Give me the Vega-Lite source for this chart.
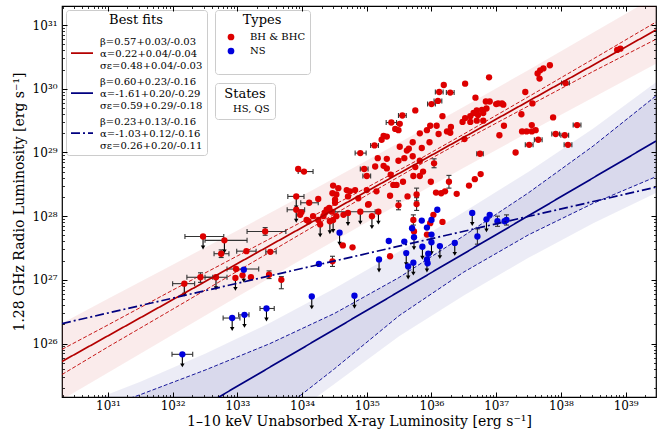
{
"$schema": "https://vega.github.io/schema/vega-lite/v6.json",
"width": 594, "height": 391,
"autosize": {"type": "none"},
"padding": {"left": 62, "top": 6, "right": 15, "bottom": 38},
"config": {"font": "DejaVu Serif", "view": {"stroke": "black", "strokeWidth": 1.2}},
"resolve": {"axis": {"x": "independent", "y": "independent"}},
"datasets": {
"redband": [
{"lx":30.29,"up":26.318,"lo":25.118},{"lx":31,"up":26.701,"lo":25.541},{"lx":32,"up":27.238,"lo":26.138},{"lx":33,"up":27.775,"lo":26.735},{"lx":34,"up":28.322,"lo":27.322},{"lx":35,"up":28.874,"lo":27.904},{"lx":35.8,"up":29.322,"lo":28.362},{"lx":36.5,"up":29.719,"lo":28.759},{"lx":37.5,"up":30.296,"lo":29.316},{"lx":38.5,"up":30.883,"lo":29.863},{"lx":39.47,"up":31.453,"lo":30.393}],
"redconf": [
{"lx":30.29,"up":25.908,"lo":25.513},{"lx":31,"up":26.291,"lo":25.946},{"lx":32,"up":26.838,"lo":26.538},{"lx":33,"up":27.375,"lo":27.135},{"lx":34,"up":27.912,"lo":27.732},{"lx":35,"up":28.449,"lo":28.329},{"lx":35.8,"up":28.887,"lo":28.797},{"lx":36.5,"up":29.289,"lo":29.189},{"lx":37.5,"up":29.876,"lo":29.731},{"lx":38.5,"up":30.468,"lo":30.273},{"lx":39.47,"up":31.048,"lo":30.778}],
"blueband": [
{"lx":30.29,"up":24.921,"lo":22.059},{"lx":31.5,"up":25.399,"lo":23.055},{"lx":32.5,"up":25.839,"lo":23.871},{"lx":33.5,"up":26.323,"lo":24.617},{"lx":34.5,"up":26.863,"lo":25.366},{"lx":35.5,"up":27.446,"lo":26.115},{"lx":36.5,"up":28.065,"lo":26.755},{"lx":37.5,"up":28.698,"lo":27.345},{"lx":38.5,"up":29.375,"lo":27.889},{"lx":39.47,"up":30.102,"lo":28.365}],
"blueconf": [
{"lx":30.29,"up":24.767,"lo":22.167},{"lx":31.5,"up":25.197,"lo":23.187},{"lx":32.5,"up":25.582,"lo":24.032},{"lx":33.5,"up":25.997,"lo":24.807},{"lx":34.5,"up":26.472,"lo":25.602},{"lx":35.5,"up":27.037,"lo":26.437},{"lx":36.5,"up":27.692,"lo":27.122},{"lx":37.5,"up":28.367,"lo":27.707},{"lx":38.5,"up":29.102,"lo":28.202},{"lx":39.47,"up":29.889,"lo":28.619}],
"fits": [
{"fit":"r","lx":30.29,"ly":25.718},{"fit":"r","lx":39.47,"ly":30.923},
{"fit":"b","lx":30.29,"ly":23.717},{"fit":"b","lx":39.47,"ly":29.179},
{"fit":"d","lx":30.29,"ly":26.313},{"fit":"d","lx":39.47,"ly":28.456}],
"pts": [
{"lx":32.47,"ly":27.68,"type":"BH & BHC","state":"HS, QS","ul":1,"xlo":32.19,"xhi":32.79},
{"lx":32.80,"ly":27.62,"type":"BH & BHC","state":"HS, QS","ul":1,"xlo":32.50,"xhi":33.15},
{"lx":32.75,"ly":27.41,"type":"BH & BHC","state":"HS, QS","ul":0,"xlo":32.64,"xhi":32.87,"ylo":27.35,"yhi":27.47},
{"lx":33.14,"ly":27.45,"type":"BH & BHC","state":"HS, QS","ul":0,"xlo":32.99,"xhi":33.29},
{"lx":33.43,"ly":27.76,"type":"BH & BHC","state":"HS, QS","ul":0,"xlo":33.15,"xhi":33.75,"ylo":27.70,"yhi":27.82},
{"lx":33.51,"ly":27.44,"type":"BH & BHC","state":"HS, QS","ul":0,"xlo":33.44,"xhi":33.60},
{"lx":32.18,"ly":26.94,"type":"BH & BHC","state":"HS, QS","ul":1,"xlo":32.00,"xhi":32.34},
{"lx":32.43,"ly":27.04,"type":"BH & BHC","state":"HS, QS","ul":0,"xlo":32.22,"xhi":32.62,"ylo":26.96,"yhi":27.11},
{"lx":32.67,"ly":27.04,"type":"BH & BHC","state":"HS, QS","ul":1,"xlo":32.50,"xhi":32.84},
{"lx":32.98,"ly":27.17,"type":"BH & BHC","state":"HS, QS","ul":0,"xlo":32.84,"xhi":33.33},
{"lx":32.97,"ly":27.03,"type":"BH & BHC","state":"HS, QS","ul":1},
{"lx":33.08,"ly":27.07,"type":"BH & BHC","state":"HS, QS","ul":0},
{"lx":33.21,"ly":27.04,"type":"BH & BHC","state":"HS, QS","ul":0},
{"lx":33.49,"ly":27.08,"type":"BH & BHC","state":"HS, QS","ul":0,"ylo":27.02,"yhi":27.14},
{"lx":33.68,"ly":27.00,"type":"BH & BHC","state":"HS, QS","ul":0,"ylo":26.86,"yhi":27.05},
{"lx":33.91,"ly":28.31,"type":"BH & BHC","state":"HS, QS","ul":1,"xlo":33.78,"xhi":34.03},
{"lx":33.94,"ly":28.74,"type":"BH & BHC","state":"HS, QS","ul":0},
{"lx":34.03,"ly":28.70,"type":"BH & BHC","state":"HS, QS","ul":0,"xlo":33.94,"xhi":34.17},
{"lx":33.91,"ly":28.10,"type":"BH & BHC","state":"HS, QS","ul":1,"xlo":33.77,"xhi":34.04},
{"lx":33.97,"ly":28.02,"type":"BH & BHC","state":"HS, QS","ul":0},
{"lx":34.11,"ly":28.21,"type":"BH & BHC","state":"HS, QS","ul":0,"xlo":33.98,"xhi":34.25},
{"lx":34.25,"ly":28.27,"type":"BH & BHC","state":"HS, QS","ul":0},
{"lx":34.10,"ly":27.92,"type":"BH & BHC","state":"HS, QS","ul":0},
{"lx":34.28,"ly":27.87,"type":"BH & BHC","state":"HS, QS","ul":1},
{"lx":34.47,"ly":27.29,"type":"BH & BHC","state":"HS, QS","ul":0,"ylo":27.21,"yhi":27.37},
{"lx":34.63,"ly":27.54,"type":"BH & BHC","state":"HS, QS","ul":0},
{"lx":34.78,"ly":27.51,"type":"BH & BHC","state":"HS, QS","ul":0},
{"lx":34.90,"ly":28.99,"type":"BH & BHC","state":"HS, QS","ul":0,"xlo":34.82,"xhi":34.99},
{"lx":34.47,"ly":28.36,"type":"BH & BHC","state":"HS, QS","ul":0},
{"lx":34.56,"ly":28.44,"type":"BH & BHC","state":"HS, QS","ul":0},
{"lx":34.69,"ly":28.41,"type":"BH & BHC","state":"HS, QS","ul":0},
{"lx":34.51,"ly":28.21,"type":"BH & BHC","state":"HS, QS","ul":0},
{"lx":34.38,"ly":28.10,"type":"BH & BHC","state":"HS, QS","ul":0},
{"lx":34.46,"ly":28.07,"type":"BH & BHC","state":"HS, QS","ul":0},
{"lx":34.33,"ly":28.00,"type":"BH & BHC","state":"HS, QS","ul":0},
{"lx":34.17,"ly":28.00,"type":"BH & BHC","state":"HS, QS","ul":0},
{"lx":34.07,"ly":27.94,"type":"BH & BHC","state":"HS, QS","ul":0},
{"lx":34.53,"ly":28.00,"type":"BH & BHC","state":"HS, QS","ul":0},
{"lx":34.25,"ly":27.94,"type":"BH & BHC","state":"HS, QS","ul":0},
{"lx":34.43,"ly":27.92,"type":"BH & BHC","state":"HS, QS","ul":1},
{"lx":34.64,"ly":28.02,"type":"BH & BHC","state":"HS, QS","ul":0},
{"lx":33.99,"ly":28.06,"type":"BH & BHC","state":"HS, QS","ul":0},
{"lx":34.35,"ly":28.05,"type":"BH & BHC","state":"HS, QS","ul":0},
{"lx":34.42,"ly":28.13,"type":"BH & BHC","state":"HS, QS","ul":0},
{"lx":34.48,"ly":28.48,"type":"BH & BHC","state":"HS, QS","ul":0},
{"lx":34.74,"ly":28.39,"type":"BH & BHC","state":"HS, QS","ul":0},
{"lx":34.82,"ly":28.41,"type":"BH & BHC","state":"HS, QS","ul":0},
{"lx":34.53,"ly":28.34,"type":"BH & BHC","state":"HS, QS","ul":0},
{"lx":34.71,"ly":28.31,"type":"BH & BHC","state":"HS, QS","ul":0},
{"lx":34.87,"ly":28.28,"type":"BH & BHC","state":"HS, QS","ul":0},
{"lx":35.00,"ly":28.41,"type":"BH & BHC","state":"HS, QS","ul":0},
{"lx":35.15,"ly":28.39,"type":"BH & BHC","state":"HS, QS","ul":0},
{"lx":34.51,"ly":28.26,"type":"BH & BHC","state":"HS, QS","ul":0},
{"lx":34.71,"ly":28.05,"type":"BH & BHC","state":"HS, QS","ul":1},
{"lx":34.90,"ly":28.07,"type":"BH & BHC","state":"HS, QS","ul":1,"xlo":34.51,"xhi":35.13},
{"lx":35.08,"ly":28.00,"type":"BH & BHC","state":"HS, QS","ul":1},
{"lx":35.18,"ly":28.07,"type":"BH & BHC","state":"HS, QS","ul":1},
{"lx":34.48,"ly":27.94,"type":"BH & BHC","state":"HS, QS","ul":1},
{"lx":35.02,"ly":28.18,"type":"BH & BHC","state":"HS, QS","ul":0},
{"lx":37.64,"ly":30.24,"type":"BH & BHC","state":"HS, QS","ul":0},
{"lx":37.68,"ly":30.29,"type":"BH & BHC","state":"HS, QS","ul":0},
{"lx":37.73,"ly":30.32,"type":"BH & BHC","state":"HS, QS","ul":0},
{"lx":37.67,"ly":30.16,"type":"BH & BHC","state":"HS, QS","ul":0},
{"lx":37.83,"ly":30.37,"type":"BH & BHC","state":"HS, QS","ul":0},
{"lx":36.89,"ly":30.18,"type":"BH & BHC","state":"HS, QS","ul":0},
{"lx":36.52,"ly":30.08,"type":"BH & BHC","state":"HS, QS","ul":0},
{"lx":36.19,"ly":30.06,"type":"BH & BHC","state":"HS, QS","ul":0},
{"lx":36.12,"ly":29.95,"type":"BH & BHC","state":"HS, QS","ul":0,"xlo":36.06,"xhi":36.18},
{"lx":36.29,"ly":29.94,"type":"BH & BHC","state":"HS, QS","ul":0,"xlo":36.23,"xhi":36.35},
{"lx":37.45,"ly":29.95,"type":"BH & BHC","state":"HS, QS","ul":0},
{"lx":38.07,"ly":30.09,"type":"BH & BHC","state":"HS, QS","ul":0,"xlo":38.01,"xhi":38.13},
{"lx":38.87,"ly":30.61,"type":"BH & BHC","state":"HS, QS","ul":0},
{"lx":38.92,"ly":30.63,"type":"BH & BHC","state":"HS, QS","ul":0},
{"lx":36.68,"ly":29.86,"type":"BH & BHC","state":"HS, QS","ul":0},
{"lx":36.10,"ly":29.81,"type":"BH & BHC","state":"HS, QS","ul":0,"xlo":36.04,"xhi":36.16},
{"lx":36.00,"ly":29.76,"type":"BH & BHC","state":"HS, QS","ul":0,"xlo":35.94,"xhi":36.06},
{"lx":36.84,"ly":29.80,"type":"BH & BHC","state":"HS, QS","ul":0},
{"lx":36.90,"ly":29.80,"type":"BH & BHC","state":"HS, QS","ul":0},
{"lx":37.00,"ly":29.76,"type":"BH & BHC","state":"HS, QS","ul":0},
{"lx":37.03,"ly":29.77,"type":"BH & BHC","state":"HS, QS","ul":0},
{"lx":37.09,"ly":29.77,"type":"BH & BHC","state":"HS, QS","ul":0},
{"lx":37.11,"ly":29.75,"type":"BH & BHC","state":"HS, QS","ul":0},
{"lx":37.56,"ly":29.77,"type":"BH & BHC","state":"HS, QS","ul":0},
{"lx":37.39,"ly":29.60,"type":"BH & BHC","state":"HS, QS","ul":0},
{"lx":37.88,"ly":29.55,"type":"BH & BHC","state":"HS, QS","ul":0},
{"lx":35.75,"ly":29.66,"type":"BH & BHC","state":"HS, QS","ul":0},
{"lx":35.55,"ly":29.58,"type":"BH & BHC","state":"HS, QS","ul":0,"xlo":35.49,"xhi":35.61},
{"lx":36.17,"ly":29.57,"type":"BH & BHC","state":"HS, QS","ul":0},
{"lx":36.70,"ly":29.66,"type":"BH & BHC","state":"HS, QS","ul":0},
{"lx":36.78,"ly":29.67,"type":"BH & BHC","state":"HS, QS","ul":0},
{"lx":36.65,"ly":29.62,"type":"BH & BHC","state":"HS, QS","ul":0},
{"lx":36.60,"ly":29.57,"type":"BH & BHC","state":"HS, QS","ul":0},
{"lx":36.85,"ly":29.69,"type":"BH & BHC","state":"HS, QS","ul":0},
{"lx":36.72,"ly":29.59,"type":"BH & BHC","state":"HS, QS","ul":0},
{"lx":36.80,"ly":29.62,"type":"BH & BHC","state":"HS, QS","ul":0},
{"lx":36.48,"ly":29.48,"type":"BH & BHC","state":"HS, QS","ul":0},
{"lx":36.52,"ly":29.54,"type":"BH & BHC","state":"HS, QS","ul":0},
{"lx":36.60,"ly":29.48,"type":"BH & BHC","state":"HS, QS","ul":0},
{"lx":36.70,"ly":29.50,"type":"BH & BHC","state":"HS, QS","ul":0},
{"lx":36.80,"ly":29.50,"type":"BH & BHC","state":"HS, QS","ul":0},
{"lx":35.38,"ly":29.47,"type":"BH & BHC","state":"HS, QS","ul":0,"xlo":35.30,"xhi":35.46},
{"lx":35.51,"ly":29.45,"type":"BH & BHC","state":"HS, QS","ul":0},
{"lx":35.44,"ly":29.37,"type":"BH & BHC","state":"HS, QS","ul":0},
{"lx":35.49,"ly":29.35,"type":"BH & BHC","state":"HS, QS","ul":0},
{"lx":35.98,"ly":29.42,"type":"BH & BHC","state":"HS, QS","ul":0},
{"lx":36.08,"ly":29.42,"type":"BH & BHC","state":"HS, QS","ul":0},
{"lx":35.93,"ly":29.35,"type":"BH & BHC","state":"HS, QS","ul":0},
{"lx":35.82,"ly":29.30,"type":"BH & BHC","state":"HS, QS","ul":0},
{"lx":36.11,"ly":29.29,"type":"BH & BHC","state":"HS, QS","ul":0},
{"lx":36.24,"ly":29.33,"type":"BH & BHC","state":"HS, QS","ul":0},
{"lx":36.30,"ly":29.40,"type":"BH & BHC","state":"HS, QS","ul":0},
{"lx":36.29,"ly":29.31,"type":"BH & BHC","state":"HS, QS","ul":0},
{"lx":37.12,"ly":29.42,"type":"BH & BHC","state":"HS, QS","ul":0},
{"lx":37.05,"ly":29.27,"type":"BH & BHC","state":"HS, QS","ul":0},
{"lx":37.40,"ly":29.33,"type":"BH & BHC","state":"HS, QS","ul":0},
{"lx":37.47,"ly":29.33,"type":"BH & BHC","state":"HS, QS","ul":0},
{"lx":37.55,"ly":29.33,"type":"BH & BHC","state":"HS, QS","ul":0},
{"lx":37.61,"ly":29.35,"type":"BH & BHC","state":"HS, QS","ul":0},
{"lx":37.55,"ly":29.43,"type":"BH & BHC","state":"HS, QS","ul":0},
{"lx":37.65,"ly":29.20,"type":"BH & BHC","state":"HS, QS","ul":0,"xlo":37.59,"xhi":37.71},
{"lx":37.51,"ly":29.12,"type":"BH & BHC","state":"HS, QS","ul":0,"xlo":37.45,"xhi":37.57},
{"lx":37.92,"ly":29.29,"type":"BH & BHC","state":"HS, QS","ul":0,"xlo":37.86,"xhi":37.98},
{"lx":38.06,"ly":29.27,"type":"BH & BHC","state":"HS, QS","ul":0,"xlo":38.00,"xhi":38.12},
{"lx":38.11,"ly":29.12,"type":"BH & BHC","state":"HS, QS","ul":0,"xlo":38.05,"xhi":38.17},
{"lx":38.25,"ly":29.43,"type":"BH & BHC","state":"HS, QS","ul":0,"xlo":38.19,"xhi":38.31},
{"lx":37.30,"ly":29.00,"type":"BH & BHC","state":"HS, QS","ul":0},
{"lx":36.75,"ly":28.98,"type":"BH & BHC","state":"HS, QS","ul":0,"xlo":36.70,"xhi":36.80},
{"lx":36.51,"ly":29.21,"type":"BH & BHC","state":"HS, QS","ul":0},
{"lx":35.26,"ly":29.26,"type":"BH & BHC","state":"HS, QS","ul":0},
{"lx":35.31,"ly":29.25,"type":"BH & BHC","state":"HS, QS","ul":0},
{"lx":35.23,"ly":29.20,"type":"BH & BHC","state":"HS, QS","ul":0},
{"lx":35.12,"ly":29.11,"type":"BH & BHC","state":"HS, QS","ul":0,"xlo":35.06,"xhi":35.18},
{"lx":35.51,"ly":29.09,"type":"BH & BHC","state":"HS, QS","ul":0},
{"lx":35.65,"ly":29.06,"type":"BH & BHC","state":"HS, QS","ul":0},
{"lx":35.62,"ly":29.03,"type":"BH & BHC","state":"HS, QS","ul":0},
{"lx":35.71,"ly":29.16,"type":"BH & BHC","state":"HS, QS","ul":0},
{"lx":35.85,"ly":29.07,"type":"BH & BHC","state":"HS, QS","ul":0},
{"lx":35.97,"ly":29.16,"type":"BH & BHC","state":"HS, QS","ul":0},
{"lx":35.17,"ly":28.91,"type":"BH & BHC","state":"HS, QS","ul":0},
{"lx":35.31,"ly":28.90,"type":"BH & BHC","state":"HS, QS","ul":0},
{"lx":35.49,"ly":28.87,"type":"BH & BHC","state":"HS, QS","ul":0},
{"lx":35.58,"ly":28.91,"type":"BH & BHC","state":"HS, QS","ul":0},
{"lx":35.71,"ly":28.94,"type":"BH & BHC","state":"HS, QS","ul":0},
{"lx":35.13,"ly":28.78,"type":"BH & BHC","state":"HS, QS","ul":0},
{"lx":35.26,"ly":28.79,"type":"BH & BHC","state":"HS, QS","ul":0},
{"lx":35.31,"ly":28.75,"type":"BH & BHC","state":"HS, QS","ul":0},
{"lx":35.82,"ly":28.87,"type":"BH & BHC","state":"HS, QS","ul":0},
{"lx":35.75,"ly":28.77,"type":"BH & BHC","state":"HS, QS","ul":0},
{"lx":36.04,"ly":28.83,"type":"BH & BHC","state":"HS, QS","ul":0,"ylo":28.76,"yhi":28.90},
{"lx":34.96,"ly":28.74,"type":"BH & BHC","state":"HS, QS","ul":0,"xlo":34.90,"xhi":35.02},
{"lx":35.00,"ly":28.63,"type":"BH & BHC","state":"HS, QS","ul":0,"xlo":34.94,"xhi":35.06},
{"lx":35.37,"ly":28.65,"type":"BH & BHC","state":"HS, QS","ul":0},
{"lx":35.41,"ly":28.49,"type":"BH & BHC","state":"HS, QS","ul":0},
{"lx":35.46,"ly":28.49,"type":"BH & BHC","state":"HS, QS","ul":0},
{"lx":35.56,"ly":28.54,"type":"BH & BHC","state":"HS, QS","ul":0},
{"lx":35.72,"ly":28.63,"type":"BH & BHC","state":"HS, QS","ul":0},
{"lx":35.82,"ly":28.63,"type":"BH & BHC","state":"HS, QS","ul":0},
{"lx":35.87,"ly":28.70,"type":"BH & BHC","state":"HS, QS","ul":0},
{"lx":35.99,"ly":28.54,"type":"BH & BHC","state":"HS, QS","ul":0},
{"lx":36.27,"ly":28.54,"type":"BH & BHC","state":"HS, QS","ul":0,"ylo":28.44,"yhi":28.64},
{"lx":36.15,"ly":28.36,"type":"BH & BHC","state":"HS, QS","ul":0},
{"lx":36.21,"ly":28.39,"type":"BH & BHC","state":"HS, QS","ul":0},
{"lx":36.07,"ly":28.37,"type":"BH & BHC","state":"HS, QS","ul":0},
{"lx":36.39,"ly":28.35,"type":"BH & BHC","state":"HS, QS","ul":0},
{"lx":36.58,"ly":28.48,"type":"BH & BHC","state":"HS, QS","ul":0},
{"lx":36.67,"ly":28.58,"type":"BH & BHC","state":"HS, QS","ul":0},
{"lx":36.76,"ly":28.66,"type":"BH & BHC","state":"HS, QS","ul":0},
{"lx":35.36,"ly":28.32,"type":"BH & BHC","state":"HS, QS","ul":0},
{"lx":35.63,"ly":28.31,"type":"BH & BHC","state":"HS, QS","ul":0},
{"lx":35.77,"ly":28.34,"type":"BH & BHC","state":"HS, QS","ul":0,"ylo":28.24,"yhi":28.44},
{"lx":35.77,"ly":28.19,"type":"BH & BHC","state":"HS, QS","ul":0,"ylo":28.09,"yhi":28.29},
{"lx":35.49,"ly":28.17,"type":"BH & BHC","state":"HS, QS","ul":0,"ylo":28.10,"yhi":28.24},
{"lx":35.03,"ly":28.19,"type":"BH & BHC","state":"HS, QS","ul":0},
{"lx":35.72,"ly":27.94,"type":"BH & BHC","state":"HS, QS","ul":0,"ylo":27.86,"yhi":28.02},
{"lx":35.98,"ly":27.89,"type":"BH & BHC","state":"HS, QS","ul":0},
{"lx":36.03,"ly":28.02,"type":"BH & BHC","state":"HS, QS","ul":0},
{"lx":36.17,"ly":27.91,"type":"BH & BHC","state":"HS, QS","ul":0},
{"lx":35.73,"ly":27.76,"type":"BH & BHC","state":"HS, QS","ul":0},
{"lx":35.93,"ly":27.71,"type":"BH & BHC","state":"HS, QS","ul":0},
{"lx":35.36,"ly":27.37,"type":"BH & BHC","state":"HS, QS","ul":0},
{"lx":33.10,"ly":27.16,"type":"NS","state":"HS, QS","ul":1},
{"lx":34.26,"ly":27.25,"type":"NS","state":"HS, QS","ul":0},
{"lx":34.15,"ly":26.74,"type":"NS","state":"HS, QS","ul":1},
{"lx":33.45,"ly":26.55,"type":"NS","state":"HS, QS","ul":1,"xlo":33.35,"xhi":33.57},
{"lx":33.11,"ly":26.45,"type":"NS","state":"HS, QS","ul":1,"xlo":33.02,"xhi":33.18},
{"lx":32.92,"ly":26.40,"type":"NS","state":"HS, QS","ul":1,"xlo":32.78,"xhi":33.04},
{"lx":32.15,"ly":25.83,"type":"NS","state":"HS, QS","ul":1,"xlo":31.99,"xhi":32.31},
{"lx":34.81,"ly":26.75,"type":"NS","state":"HS, QS","ul":1},
{"lx":34.58,"ly":27.74,"type":"NS","state":"HS, QS","ul":1},
{"lx":36.09,"ly":28.10,"type":"NS","state":"HS, QS","ul":0},
{"lx":35.85,"ly":27.93,"type":"NS","state":"HS, QS","ul":0},
{"lx":35.70,"ly":27.81,"type":"NS","state":"HS, QS","ul":0},
{"lx":35.93,"ly":27.82,"type":"NS","state":"HS, QS","ul":0},
{"lx":36.00,"ly":27.94,"type":"NS","state":"HS, QS","ul":0},
{"lx":36.63,"ly":28.05,"type":"NS","state":"HS, QS","ul":1},
{"lx":36.90,"ly":28.02,"type":"NS","state":"HS, QS","ul":0},
{"lx":36.85,"ly":27.95,"type":"NS","state":"HS, QS","ul":1},
{"lx":37.02,"ly":27.92,"type":"NS","state":"HS, QS","ul":0,"ylo":27.84,"yhi":28.00},
{"lx":37.13,"ly":27.92,"type":"NS","state":"HS, QS","ul":0},
{"lx":37.16,"ly":27.94,"type":"NS","state":"HS, QS","ul":0,"ylo":27.86,"yhi":28.02},
{"lx":36.71,"ly":27.68,"type":"NS","state":"HS, QS","ul":0,"ylo":27.56,"yhi":27.80},
{"lx":35.34,"ly":27.61,"type":"NS","state":"HS, QS","ul":0},
{"lx":35.58,"ly":27.60,"type":"NS","state":"HS, QS","ul":0},
{"lx":35.73,"ly":27.67,"type":"NS","state":"HS, QS","ul":1},
{"lx":36.00,"ly":27.71,"type":"NS","state":"HS, QS","ul":0},
{"lx":36.00,"ly":27.59,"type":"NS","state":"HS, QS","ul":1},
{"lx":36.36,"ly":27.58,"type":"NS","state":"HS, QS","ul":1},
{"lx":35.61,"ly":27.42,"type":"NS","state":"HS, QS","ul":1},
{"lx":35.86,"ly":27.52,"type":"NS","state":"HS, QS","ul":1},
{"lx":36.13,"ly":27.53,"type":"NS","state":"HS, QS","ul":1},
{"lx":35.19,"ly":27.32,"type":"NS","state":"HS, QS","ul":1},
{"lx":35.93,"ly":27.32,"type":"NS","state":"HS, QS","ul":1},
{"lx":35.94,"ly":27.26,"type":"NS","state":"HS, QS","ul":0},
{"lx":35.72,"ly":27.27,"type":"NS","state":"HS, QS","ul":1},
{"lx":35.64,"ly":27.21,"type":"NS","state":"HS, QS","ul":1},
{"lx":35.95,"ly":27.41,"type":"NS","state":"HS, QS","ul":0}
]
},
"layer": [
{"data": {"name": "redband"}, "mark": {"type": "area", "color": "#c00000", "opacity": 0.08, "clip": true},
 "encoding": {
  "x": {"field": "lx", "type": "quantitative", "scale": {"domain": [30.29, 39.47], "nice": false, "zero": false},
   "axis": {"orient": "bottom", "values": [31,32,33,34,35,36,37,38,39], "labelExpr": "'10' + (datum.value==31?'³¹':datum.value==32?'³²':datum.value==33?'³³':datum.value==34?'³⁴':datum.value==35?'³⁵':datum.value==36?'³⁶':datum.value==37?'³⁷':datum.value==38?'³⁸':'³⁹')", "tickSize": 5, "offset": -5, "labelPadding": 3, "domain": false, "grid": false, "tickColor": "black", "tickWidth": 1, "labelFont": "DejaVu Serif", "labelFontSize": 12, "labelColor": "black", "labelFlush": false, "title": "1–10 keV Unabsorbed X-ray Luminosity [erg s⁻¹]", "titleFont": "DejaVu Serif", "titleFontSize": 14, "titleFontWeight": "normal", "titleColor": "black", "titlePadding": 3, "zindex": 2}},
  "y": {"field": "up", "type": "quantitative", "scale": {"domain": [25.16, 31.3], "nice": false, "zero": false},
   "axis": {"orient": "left", "values": [26,27,28,29,30,31], "labelExpr": "'10' + (datum.value==26?'²⁶':datum.value==27?'²⁷':datum.value==28?'²⁸':datum.value==29?'²⁹':datum.value==30?'³⁰':'³¹')", "tickSize": 5, "offset": -5, "labelPadding": 5, "domain": false, "grid": false, "tickColor": "black", "tickWidth": 1, "labelFont": "DejaVu Serif", "labelFontSize": 12, "labelColor": "black", "labelFlush": false, "title": "1.28 GHz Radio Luminosity [erg s⁻¹]", "titleFont": "DejaVu Serif", "titleFontSize": 14, "titleFontWeight": "normal", "titleColor": "black", "titlePadding": 6, "zindex": 2}},
  "y2": {"field": "lo"}
 }},
{"data": {"name": "blueband"}, "mark": {"type": "area", "color": "#000080", "opacity": 0.075, "clip": true},
 "encoding": {
  "x": {"field": "lx", "type": "quantitative", "scale": {"domain": [30.29, 39.47], "nice": false, "zero": false},
   "axis": {"orient": "bottom", "values": [30.301,30.477,30.602,30.699,30.778,30.845,30.903,30.954,31.301,31.477,31.602,31.699,31.778,31.845,31.903,31.954,32.301,32.477,32.602,32.699,32.778,32.845,32.903,32.954,33.301,33.477,33.602,33.699,33.778,33.845,33.903,33.954,34.301,34.477,34.602,34.699,34.778,34.845,34.903,34.954,35.301,35.477,35.602,35.699,35.778,35.845,35.903,35.954,36.301,36.477,36.602,36.699,36.778,36.845,36.903,36.954,37.301,37.477,37.602,37.699,37.778,37.845,37.903,37.954,38.301,38.477,38.602,38.699,38.778,38.845,38.903,38.954,39.301], "labels": false, "tickSize": 2.5, "offset": -2.5, "domain": false, "grid": false, "tickColor": "black", "tickWidth": 0.8, "title": null, "zindex": 2}},
  "y": {"field": "up", "type": "quantitative", "scale": {"domain": [25.16, 31.3], "nice": false, "zero": false},
   "axis": {"orient": "left", "values": [25.301,25.477,25.602,25.699,25.778,25.845,25.903,25.954,26.301,26.477,26.602,26.699,26.778,26.845,26.903,26.954,27.301,27.477,27.602,27.699,27.778,27.845,27.903,27.954,28.301,28.477,28.602,28.699,28.778,28.845,28.903,28.954,29.301,29.477,29.602,29.699,29.778,29.845,29.903,29.954,30.301,30.477,30.602,30.699,30.778,30.845,30.903,30.954], "labels": false, "tickSize": 2.5, "offset": -2.5, "domain": false, "grid": false, "tickColor": "black", "tickWidth": 0.8, "title": null, "zindex": 2}},
  "y2": {"field": "lo"}
 }},
{"data": {"name": "blueconf"}, "mark": {"type": "area", "color": "#000080", "opacity": 0.08, "clip": true},
 "encoding": {
  "x": {"field": "lx", "type": "quantitative", "scale": {"domain": [30.29, 39.47], "nice": false, "zero": false},
   "axis": {"orient": "top", "values": [31,32,33,34,35,36,37,38,39], "labels": false, "tickSize": 5, "offset": -5, "domain": false, "grid": false, "tickColor": "black", "tickWidth": 1, "title": null, "zindex": 2}},
  "y": {"field": "up", "type": "quantitative", "scale": {"domain": [25.16, 31.3], "nice": false, "zero": false},
   "axis": {"orient": "right", "values": [26,27,28,29,30,31], "labels": false, "tickSize": 5, "offset": -5, "domain": false, "grid": false, "tickColor": "black", "tickWidth": 1, "title": null, "zindex": 2}},
  "y2": {"field": "lo"}
 }},
{"data": {"name": "redconf"}, "mark": {"type": "line", "color": "#c00000", "strokeWidth": 0.9, "strokeDash": [4, 2], "clip": true},
 "encoding": {
  "x": {"field": "lx", "type": "quantitative", "scale": {"domain": [30.29, 39.47], "nice": false, "zero": false},
   "axis": {"orient": "top", "values": [30.301,30.477,30.602,30.699,30.778,30.845,30.903,30.954,31.301,31.477,31.602,31.699,31.778,31.845,31.903,31.954,32.301,32.477,32.602,32.699,32.778,32.845,32.903,32.954,33.301,33.477,33.602,33.699,33.778,33.845,33.903,33.954,34.301,34.477,34.602,34.699,34.778,34.845,34.903,34.954,35.301,35.477,35.602,35.699,35.778,35.845,35.903,35.954,36.301,36.477,36.602,36.699,36.778,36.845,36.903,36.954,37.301,37.477,37.602,37.699,37.778,37.845,37.903,37.954,38.301,38.477,38.602,38.699,38.778,38.845,38.903,38.954,39.301], "labels": false, "tickSize": 2.5, "offset": -2.5, "domain": false, "grid": false, "tickColor": "black", "tickWidth": 0.8, "title": null, "zindex": 2}},
  "y": {"field": "up", "type": "quantitative", "scale": {"domain": [25.16, 31.3], "nice": false, "zero": false},
   "axis": {"orient": "right", "values": [25.301,25.477,25.602,25.699,25.778,25.845,25.903,25.954,26.301,26.477,26.602,26.699,26.778,26.845,26.903,26.954,27.301,27.477,27.602,27.699,27.778,27.845,27.903,27.954,28.301,28.477,28.602,28.699,28.778,28.845,28.903,28.954,29.301,29.477,29.602,29.699,29.778,29.845,29.903,29.954,30.301,30.477,30.602,30.699,30.778,30.845,30.903,30.954], "labels": false, "tickSize": 2.5, "offset": -2.5, "domain": false, "grid": false, "tickColor": "black", "tickWidth": 0.8, "title": null, "zindex": 2}}
 }},
{"data": {"name": "redconf"}, "mark": {"type": "line", "color": "#c00000", "strokeWidth": 0.9, "strokeDash": [4, 2], "clip": true},
 "encoding": {
  "x": {"field": "lx", "type": "quantitative", "scale": {"domain": [30.29, 39.47], "nice": false, "zero": false}, "axis": null},
  "y": {"field": "lo", "type": "quantitative", "scale": {"domain": [25.16, 31.3], "nice": false, "zero": false}, "axis": null}
 }},
{"data": {"name": "blueconf"}, "mark": {"type": "line", "color": "#000090", "strokeWidth": 0.9, "strokeDash": [4, 2], "clip": true},
 "encoding": {
  "x": {"field": "lx", "type": "quantitative", "scale": {"domain": [30.29, 39.47], "nice": false, "zero": false}, "axis": null},
  "y": {"field": "up", "type": "quantitative", "scale": {"domain": [25.16, 31.3], "nice": false, "zero": false}, "axis": null}
 }},
{"data": {"name": "blueconf"}, "mark": {"type": "line", "color": "#000090", "strokeWidth": 0.9, "strokeDash": [4, 2], "clip": true},
 "encoding": {
  "x": {"field": "lx", "type": "quantitative", "scale": {"domain": [30.29, 39.47], "nice": false, "zero": false}, "axis": null},
  "y": {"field": "lo", "type": "quantitative", "scale": {"domain": [25.16, 31.3], "nice": false, "zero": false}, "axis": null}
 }},
{"data": {"name": "pts"}, "transform": [{"filter": "isValid(datum.xlo)"}], "mark": {"type": "rule", "color": "#333333", "strokeWidth": 1.1},
 "encoding": {
  "x": {"field": "xlo", "type": "quantitative", "scale": {"domain": [30.29, 39.47], "nice": false, "zero": false}, "axis": null},
  "x2": {"field": "xhi"},
  "y": {"field": "ly", "type": "quantitative", "scale": {"domain": [25.16, 31.3], "nice": false, "zero": false}, "axis": null}
 }},
{"data": {"name": "pts"}, "transform": [{"filter": "isValid(datum.xlo)"}], "mark": {"type": "point", "shape": "M0,-1V1", "size": 25, "filled": false, "color": "#333333", "strokeWidth": 1.1, "opacity": 1},
 "encoding": {
  "x": {"field": "xlo", "type": "quantitative", "scale": {"domain": [30.29, 39.47], "nice": false, "zero": false}, "axis": null},
  "y": {"field": "ly", "type": "quantitative", "scale": {"domain": [25.16, 31.3], "nice": false, "zero": false}, "axis": null}
 }},
{"data": {"name": "pts"}, "transform": [{"filter": "isValid(datum.xhi)"}], "mark": {"type": "point", "shape": "M0,-1V1", "size": 25, "filled": false, "color": "#333333", "strokeWidth": 1.1, "opacity": 1},
 "encoding": {
  "x": {"field": "xhi", "type": "quantitative", "scale": {"domain": [30.29, 39.47], "nice": false, "zero": false}, "axis": null},
  "y": {"field": "ly", "type": "quantitative", "scale": {"domain": [25.16, 31.3], "nice": false, "zero": false}, "axis": null}
 }},
{"data": {"name": "pts"}, "transform": [{"filter": "isValid(datum.ylo)"}], "mark": {"type": "rule", "color": "#333333", "strokeWidth": 1.1},
 "encoding": {
  "x": {"field": "lx", "type": "quantitative", "scale": {"domain": [30.29, 39.47], "nice": false, "zero": false}, "axis": null},
  "y": {"field": "ylo", "type": "quantitative", "scale": {"domain": [25.16, 31.3], "nice": false, "zero": false}, "axis": null},
  "y2": {"field": "yhi"}
 }},
{"data": {"name": "pts"}, "transform": [{"filter": "isValid(datum.ylo)"}], "mark": {"type": "point", "shape": "M-1,0H1", "size": 25, "filled": false, "color": "#333333", "strokeWidth": 1.1, "opacity": 1},
 "encoding": {
  "x": {"field": "lx", "type": "quantitative", "scale": {"domain": [30.29, 39.47], "nice": false, "zero": false}, "axis": null},
  "y": {"field": "ylo", "type": "quantitative", "scale": {"domain": [25.16, 31.3], "nice": false, "zero": false}, "axis": null}
 }},
{"data": {"name": "pts"}, "transform": [{"filter": "isValid(datum.yhi)"}], "mark": {"type": "point", "shape": "M-1,0H1", "size": 25, "filled": false, "color": "#333333", "strokeWidth": 1.1, "opacity": 1},
 "encoding": {
  "x": {"field": "lx", "type": "quantitative", "scale": {"domain": [30.29, 39.47], "nice": false, "zero": false}, "axis": null},
  "y": {"field": "yhi", "type": "quantitative", "scale": {"domain": [25.16, 31.3], "nice": false, "zero": false}, "axis": null}
 }},
{"data": {"name": "pts"}, "transform": [{"filter": "datum.ul == 1"}], "mark": {"type": "rule", "color": "black", "strokeWidth": 1.1, "y2Offset": 10},
 "encoding": {
  "x": {"field": "lx", "type": "quantitative", "scale": {"domain": [30.29, 39.47], "nice": false, "zero": false}, "axis": null},
  "y": {"field": "ly", "type": "quantitative", "scale": {"domain": [25.16, 31.3], "nice": false, "zero": false}, "axis": null},
  "y2": {"field": "ly"}
 }},
{"data": {"name": "pts"}, "transform": [{"filter": "datum.ul == 1"}], "mark": {"type": "point", "shape": "triangle-down", "size": 20, "filled": true, "color": "black", "opacity": 1, "yOffset": 11},
 "encoding": {
  "x": {"field": "lx", "type": "quantitative", "scale": {"domain": [30.29, 39.47], "nice": false, "zero": false}, "axis": null},
  "y": {"field": "ly", "type": "quantitative", "scale": {"domain": [25.16, 31.3], "nice": false, "zero": false}, "axis": null}
 }},
{"data": {"name": "pts"}, "mark": {"type": "point", "filled": true, "size": 40, "opacity": 1, "strokeWidth": 0},
 "encoding": {
  "x": {"field": "lx", "type": "quantitative", "scale": {"domain": [30.29, 39.47], "nice": false, "zero": false}, "axis": null},
  "y": {"field": "ly", "type": "quantitative", "scale": {"domain": [25.16, 31.3], "nice": false, "zero": false}, "axis": null},
  "fill": {"field": "type", "type": "nominal", "scale": {"domain": ["BH & BHC", "NS", " "], "range": ["#dd0000", "#0000dd", "rgba(0,0,0,0)"]},
   "legend": {"title": "Types", "orient": "none", "legendX": 153, "legendY": 4, "titleAnchor": "middle", "titleFont": "DejaVu Serif", "titleFontSize": 13, "titleFontWeight": "normal", "titleColor": "black", "titlePadding": 5, "labelFont": "DejaVu Serif", "labelFontSize": 10, "labelColor": "black", "labelOffset": 14, "symbolType": "circle", "symbolSize": 45, "symbolOffset": 7, "symbolStrokeWidth": 0, "rowPadding": 4, "padding": 4, "strokeColor": "#cccccc", "fillColor": "rgba(255,255,255,0.8)", "cornerRadius": 3}},
  "shape": {"field": "state", "type": "nominal", "scale": {"domain": ["HS, QS"], "range": ["circle"]},
   "legend": {"title": "States", "orient": "none", "legendX": 153, "legendY": 77, "titleAnchor": "middle", "titleFont": "DejaVu Serif", "titleFontSize": 13, "titleFontWeight": "normal", "titleColor": "black", "titlePadding": 3, "labelFont": "DejaVu Serif", "labelFontSize": 10, "labelColor": "black", "labelOffset": 3, "symbolOpacity": 0, "symbolSize": 4, "padding": 5, "strokeColor": "#cccccc", "fillColor": "rgba(255,255,255,0.8)", "cornerRadius": 3}}
 }},
{"data": {"name": "fits"}, "mark": {"type": "line", "clip": true},
 "encoding": {
  "x": {"field": "lx", "type": "quantitative", "scale": {"domain": [30.29, 39.47], "nice": false, "zero": false}, "axis": null},
  "y": {"field": "ly", "type": "quantitative", "scale": {"domain": [25.16, 31.3], "nice": false, "zero": false}, "axis": null},
  "stroke": {"field": "fit", "type": "nominal", "scale": {"domain": ["r", "b", "d"], "range": ["#b40000", "#000080", "#000080"]},
   "legend": {"title": "Best fits", "orient": "none", "legendX": 4, "legendY": 4, "titleAnchor": "middle", "titleFont": "DejaVu Serif", "titleFontSize": 13, "titleFontWeight": "normal", "titleColor": "black", "titlePadding": 8, "labelFont": "DejaVu Serif", "labelFontSize": 10, "labelColor": "black", "labelOffset": 11.5, "labelLimit": 300, "symbolType": "M-2,2.1H2", "symbolSize": 121, "symbolOffset": 5.5, "symbolStrokeWidth": 1.8, "rowPadding": 4, "padding": 4, "strokeColor": "#cccccc", "fillColor": "rgba(255,255,255,0.8)", "cornerRadius": 3,
    "labelExpr": "datum.value=='r' ? ['β=0.57+0.03/-0.03','α=0.22+0.04/-0.04','σε=0.48+0.04/-0.03'] : datum.value=='b' ? ['β=0.60+0.23/-0.16','α=-1.61+0.20/-0.29','σε=0.59+0.29/-0.18'] : ['β=0.23+0.13/-0.16','α=-1.03+0.12/-0.16','σε=0.26+0.20/-0.11']"}},
  "strokeDash": {"field": "fit", "type": "nominal", "scale": {"domain": ["r", "b", "d"], "range": [[1, 0], [1, 0], [9, 3, 2, 3]]}},
  "strokeWidth": {"field": "fit", "type": "ordinal", "scale": {"domain": ["r", "b", "d"], "range": [1.7, 1.7, 2.3]}, "legend": null}
 }}
]
}
